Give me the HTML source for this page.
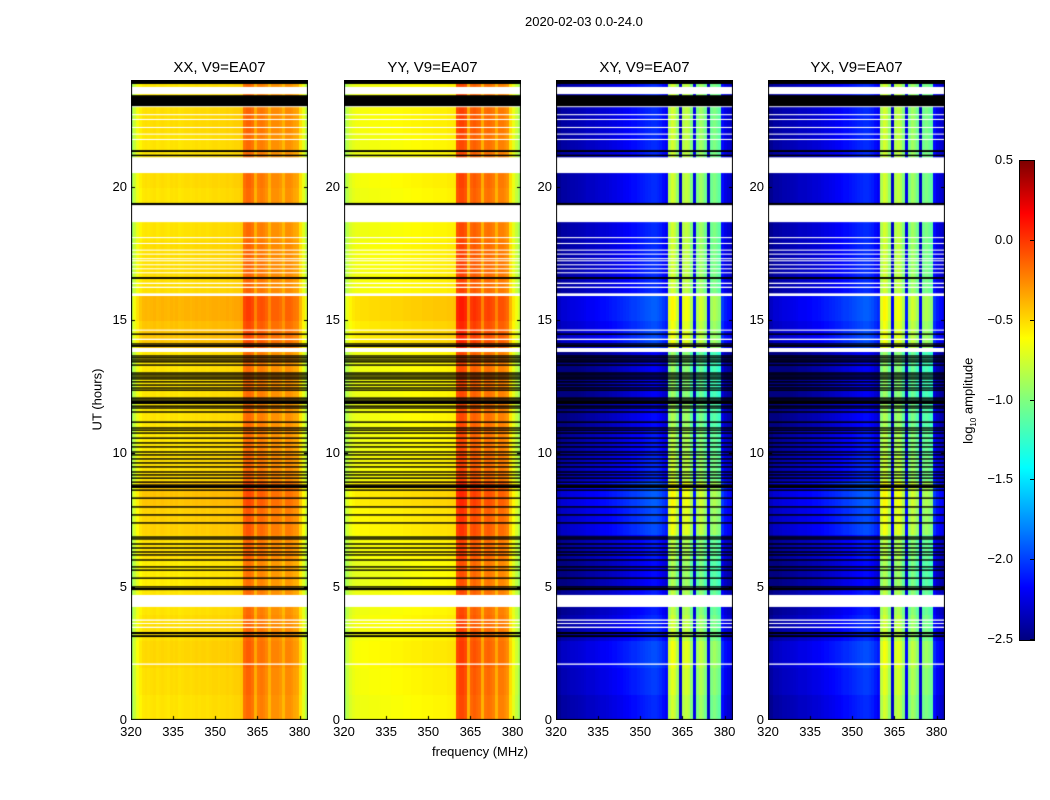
<!DOCTYPE html>
<html><head><meta charset="utf-8">
<style>
body{margin:0;background:#fff;font-family:"Liberation Sans","DejaVu Sans",sans-serif;}
#root{position:relative;width:1050px;height:800px;overflow:hidden;background:#fff}
.t{position:absolute;font-size:13px;color:#000;white-space:nowrap}
.ttl{position:absolute;font-size:15px;white-space:nowrap;transform:translateX(-50%)}
canvas{position:absolute}
</style></head>
<body>
<div id="root">
<div class="t" style="left:525px;top:14px">2020-02-03 0.0-24.0</div>
<div class="t" style="left:432px;top:744px">frequency (MHz)</div>
<div class="t" style="left:66px;top:392px;transform:rotate(-90deg);transform-origin:center">UT (hours)</div>
<div class="t" style="left:926px;top:392px;transform:rotate(-90deg);transform-origin:center">log<sub style="font-size:8px">10</sub> amplitude</div>
<div id="cbar" style="position:absolute;left:1019px;top:160px;width:14px;height:479px;border:1px solid #000;background:linear-gradient(to top,#00007f 0%,#0000ff 11%,#007fff 23%,#00ffff 36%,#7fff7f 50%,#ffff00 63%,#ff7f00 76%,#ff0000 89%,#7f0000 100%)"></div>
</div>
<script>
// ---- data ----
var freqs=[];for(var i=0;i<64;i++)freqs.push(320+i);
var xxProfile=[-0.95,-0.8,-0.68,-0.6,-0.56,-0.55,-0.56,-0.55,-0.54,-0.56,-0.55,-0.54,-0.55,-0.56,-0.54,-0.55,-0.54,-0.56,-0.55,-0.54,-0.54,-0.55,-0.54,-0.53,-0.54,-0.53,-0.53,-0.54,-0.53,-0.52,-0.52,-0.53,-0.52,-0.52,-0.51,-0.52,-0.51,-0.5,-0.5,-0.48,-0.22,-0.18,-0.18,-0.22,-0.4,-0.26,-0.24,-0.26,-0.3,-0.42,-0.3,-0.3,-0.3,-0.33,-0.42,-0.3,-0.3,-0.32,-0.36,-0.38,-0.55,-0.7,-0.85,-0.95];
var yyProfile=[-0.95,-0.82,-0.74,-0.7,-0.68,-0.68,-0.67,-0.67,-0.67,-0.66,-0.66,-0.66,-0.66,-0.65,-0.65,-0.65,-0.65,-0.64,-0.64,-0.64,-0.64,-0.63,-0.63,-0.63,-0.62,-0.62,-0.62,-0.62,-0.61,-0.61,-0.61,-0.61,-0.6,-0.6,-0.6,-0.6,-0.6,-0.59,-0.59,-0.58,-0.12,-0.08,-0.08,-0.12,-0.4,-0.18,-0.15,-0.18,-0.2,-0.4,-0.22,-0.2,-0.22,-0.25,-0.4,-0.25,-0.25,-0.28,-0.32,-0.55,-0.7,-0.8,-0.9,-0.95];
var xyProfile=[-2.5,-2.45,-2.4,-2.4,-2.38,-2.36,-2.36,-2.35,-2.34,-2.33,-2.32,-2.3,-2.3,-2.3,-2.28,-2.27,-2.25,-2.25,-2.24,-2.22,-2.2,-2.2,-2.18,-2.17,-2.15,-2.14,-2.12,-2.1,-2.1,-2.08,-2.06,-2.05,-2.03,-2.02,-2.0,-2.0,-2.02,-2.05,-2.1,-2.15,-0.85,-0.75,-0.8,-0.95,-2.3,-0.85,-0.8,-0.85,-1.0,-2.2,-1.0,-0.9,-0.95,-1.05,-2.3,-1.05,-1.0,-1.05,-1.1,-2.1,-2.2,-2.25,-2.3,-2.4];
var yxProfile=xyProfile.slice();
var parHours=[0.0,0.02,0.04,0.02,0.0,-0.02,0.02,0.06,0.1,0.02,0.0,0.0,0.0,0.0,0.1,0.14,0.02,0.02,0.0,0.0,0.02,0.0,0.02,0.0];
var crossHours=[0.0,0.05,0.1,0.0,-0.05,-0.1,-0.05,0.1,0.15,0.0,-0.05,-0.1,-0.15,-0.15,0.1,0.15,0.0,0.0,0.0,0.0,0.0,0.0,0.0,0.0];
var whiteGaps=[[23.47,23.74],[20.51,21.1],[18.67,19.31],[15.9,16.0],[13.8,13.95],[4.24,4.69],[2.07,2.12],[3.45,3.5],[3.6,3.64],[3.72,3.77],[22.98,23.02],[22.68,22.72],[22.5,22.54],[22.2,22.24],[21.95,21.99],[21.75,21.79],[18.07,18.11],[17.85,17.89],[17.6,17.64],[17.45,17.49],[17.28,17.32],[17.2,17.24],[17.05,17.09],[16.9,16.94],[16.75,16.79],[16.35,16.4],[16.2,16.25],[14.6,14.64],[14.25,14.3]];
var blackFlags=[[23.85,24.0],[23.02,23.43],[21.3,21.37],[21.15,21.2],[19.31,19.39],[16.54,16.61],[13.99,14.06],[4.87,4.95],[3.11,3.18],[3.22,3.3],[11.85,11.97],[8.7,8.8]];
var blackLines=[14.47,14.1,13.65,13.58,13.5,13.43,13.31,13.01,12.94,12.86,12.79,12.68,12.56,12.45,12.37,12.07,12.0,11.92,11.89,11.77,11.7,11.55,11.17,10.95,10.87,10.76,10.57,10.39,10.24,10.05,9.94,9.79,9.64,9.49,9.3,9.19,9.07,8.92,8.81,8.62,8.32,7.99,7.69,7.39,6.86,6.79,6.6,6.45,6.3,6.19,6.0,5.74,5.62,5.32,4.99];
var xTicks=[320,335,350,365,380];
var yTicks=[0,5,10,15,20];
var cbTicks=[0.5,0.0,-0.5,-1.0,-1.5,-2.0,-2.5];
var panels=[{name:"XX",title:"XX, V9=EA07",left:131,prof:xxProfile,hrs:parHours},
{name:"YY",title:"YY, V9=EA07",left:344,prof:yyProfile,hrs:parHours},
{name:"XY",title:"XY, V9=EA07",left:556,prof:xyProfile,hrs:crossHours},
{name:"YX",title:"YX, V9=EA07",left:768,prof:yxProfile,hrs:crossHours}];
// ---- rendering ----
var TOP=80,H=640,W=177,F0=320,F1=383,VMIN=-2.5,VMAX=0.5;
function xs(f){return (f-F0)/(F1-F0)*W;}
function ys(h){return H-h/24*H;}
function jet(v){var t=Math.max(0,Math.min(1,(v-VMIN)/(VMAX-VMIN)));
 function c(x){return Math.round(255*Math.max(0,Math.min(1,1.5-Math.abs(4*t-x))));}
 return "rgb("+c(3)+","+c(2)+","+c(1)+")";}
var root=document.getElementById('root');
function txt(s,x,y,name,align){var d=document.createElement('div');d.className='t';d.textContent=s;
 
 
 d.style.top=y+'px';d.style.left=x+'px';if(align==='c')d.style.transform='translateX(-50%)';if(align==='r')d.style.transform='translateX(-100%)';root.appendChild(d);}
panels.forEach(function(p){
 var cv=document.createElement('canvas');cv.width=W;cv.height=H;cv.style.left=p.left+'px';cv.style.top=TOP+'px';
 
 
 root.appendChild(cv);var g=cv.getContext('2d');
 for(var hb=0;hb<120;hb++){var h0=hb*0.2,h1=h0+0.2,off=p.hrs[Math.floor(h0)];
  for(var c=0;c<freqs.length;c++){var x0=xs(freqs[c]),x1=xs(freqs[c]+1);
   g.fillStyle=jet(p.prof[c]+off);g.fillRect(Math.floor(x0),Math.floor(ys(h1)),Math.ceil(x1-x0)+1,Math.ceil(ys(h0)-ys(h1))+1);}}
 g.fillStyle='#fff';whiteGaps.forEach(function(w){g.fillRect(0,ys(w[1]),W,Math.max(1,ys(w[0])-ys(w[1])));});
 g.fillStyle='#000';blackFlags.forEach(function(w){g.fillRect(0,ys(w[1]),W,Math.max(1.5,ys(w[0])-ys(w[1])));});
 blackLines.forEach(function(h){g.fillRect(0,ys(h)-0.7,W,1.4);});
 g.strokeStyle='#000';g.lineWidth=1;
 xTicks.forEach(function(f){var x=Math.round(xs(f))+0.5;g.beginPath();g.moveTo(x,H);g.lineTo(x,H-4);g.moveTo(x,0);g.lineTo(x,4);g.stroke();});
 yTicks.forEach(function(h){var y=Math.round(ys(h))+0.5;g.beginPath();g.moveTo(0,y);g.lineTo(4,y);g.moveTo(W,y);g.lineTo(W-4,y);g.stroke();});
 g.strokeRect(0.5,0.5,W-1,H-1);
 var t=document.createElement('div');t.className='ttl';t.textContent=p.title;t.style.left=(p.left+W/2)+'px';t.style.top='59px';
 
 
 root.appendChild(t);
 xTicks.forEach(function(f){txt(String(f),p.left+xs(f),724,'x-tick-label','c');});
 yTicks.forEach(function(h){txt(String(h),p.left-4,TOP+ys(h)-8,'y-tick-label','r');});
});
cbTicks.forEach(function(v){var y=160+(VMAX-v)/(VMAX-VMIN)*479;
 txt(v.toFixed(1).replace('-','\u2212'),1013,y-8,'colorbar-tick-label','r');
 var m=document.createElement('div');m.style.cssText='position:absolute;width:4px;height:1px;background:#000;left:1030px;top:'+Math.round(y)+'px';
 
 
 root.appendChild(m);});
</script>
</body></html>
